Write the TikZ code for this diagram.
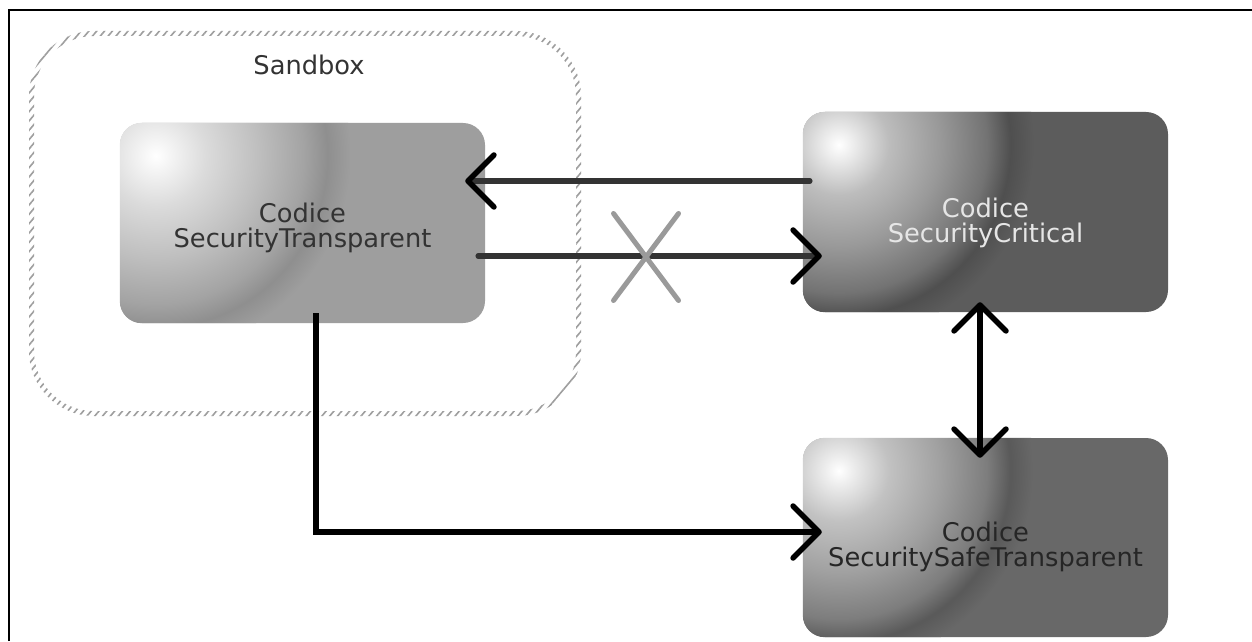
\documentclass[tikz,border=0pt]{standalone}
\usepackage{fontspec}
\setmainfont{DejaVu Sans}
\usetikzlibrary{arrows.meta,calc,patterns.meta,shapes.misc}

\definecolor{baseA}{HTML}{9E9E9E}
\definecolor{baseB}{HTML}{5C5C5C}
\definecolor{baseC}{HTML}{686868}
\definecolor{hatch}{HTML}{9E9E9E}
\definecolor{xgrey}{HTML}{9A9A9A}
\definecolor{linegrey}{HTML}{333333}
\definecolor{txtdark}{HTML}{333333}
\definecolor{txtlight}{HTML}{E6E6E6}

\pgfdeclareradialshading{hlA}{\pgfpointorigin}{color(0bp)=(white); color(1.8bp)=(black!4); color(6.4bp)=(black!14); color(13bp)=(black!25); color(19bp)=(black!36); color(22bp)=(black!44); color(25bp)=(black!38); color(50bp)=(black!38)}
\pgfdeclareradialshading{hlB}{\pgfpointorigin}{color(0bp)=(white); color(1.8bp)=(black!7); color(6.4bp)=(black!26); color(13bp)=(black!40); color(19bp)=(black!55); color(22bp)=(black!69); color(25bp)=(black!64); color(50bp)=(black!64)}
\pgfdeclareradialshading{hlC}{\pgfpointorigin}{color(0bp)=(white); color(1.8bp)=(black!7); color(6.4bp)=(black!24); color(13bp)=(black!37); color(19bp)=(black!51); color(22bp)=(black!65); color(25bp)=(black!59); color(50bp)=(black!59)}

\tikzset{
  box/.style={rounded corners=22pt, minimum width=365pt, minimum height=200pt, inner sep=0pt},
  boxclip/.style={rounded corners=22pt},
  boxtext/.style={font=\fontsize{25.7}{25}\selectfont, align=center, inner sep=0pt},
  chev/.tip={Straight Barb[length=26pt,width=52pt,line width=5.5pt,color=black,round]},
  conn/.style={line width=5.5pt, line cap=round, -chev},
  dconn/.style={line width=5.5pt, line cap=round, chev-chev},
}

\begin{document}
\begin{tikzpicture}[x=1pt,y=1pt]
\useasboundingbox (0,0) rectangle (1252,641);
\fill[white] (0,0) rectangle (1252,641);
% frame
\draw[line width=2pt] (9,0) -- (9,631) -- (1252,631);

% sandbox ring
\fill[pattern={Lines[angle=50,distance=6pt,line width=1.6pt]}, pattern color=hatch, even odd rule]
  [rounded corners=65pt] (29,225) rectangle (581,610)
  [rounded corners=60pt] (34,230) rectangle (576,605);
\node[font=\fontsize{25.7}{25}\selectfont, text=txtdark, inner sep=0pt] (sb) at (309,576) {Sandbox};

% boxes
\node[box, fill=baseA] (A) at (302.5,418) {};
\node[box, fill=baseB] (B) at (985.5,429) {};
\node[box, fill=baseC, minimum height=199pt] (C) at (985.5,103.5) {};

% glossy highlights
\begin{scope}
  \clip[boxclip] (A.south west) rectangle (A.north east);
  \shade[shading=hlA] ($(A.north west)+(36,-33)$) circle (195pt);
\end{scope}
\begin{scope}
  \clip[boxclip] (B.south west) rectangle (B.north east);
  \shade[shading=hlB] ($(B.north west)+(36,-33)$) circle (195pt);
\end{scope}
\begin{scope}
  \clip[boxclip] (C.south west) rectangle (C.north east);
  \shade[shading=hlC] ($(C.north west)+(36,-33)$) circle (195pt);
\end{scope}

\node[boxtext, text=txtdark] (tA) at ($(A.center)+(0,-5.2)$) {Codice\\SecurityTransparent};
\node[boxtext, text=txtlight] (tB) at ($(B.center)+(0,-11)$) {Codice\\SecurityCritical};
\node[boxtext, text=black!85] (tC) at ($(C.center)+(0,-9)$) {Codice\\SecuritySafeTransparent};

% connectors
\draw[conn, draw=linegrey] ($(B.west)+(7,31)$) -- ($(A.east)+(-20,42)$);
\draw[conn, draw=linegrey] ($(A.east)+(-7,-33)$) -- ($(B.west)+(19,-44)$);
\draw[dconn, draw=black] ($(B.south)+(-5.5,10)$) -- ($(C.north)+(-5.5,-20)$);
\draw[conn, draw=black, line cap=butt] ($(A.south)+(13.5,10)$) |- ($(C.west)+(19,5.5)$);

% cross
\node[cross out, draw=xgrey, line width=5pt, line cap=round, minimum width=60pt, minimum height=82pt, inner sep=0pt] (X) at (646,384) {};
\end{tikzpicture}
\end{document}
